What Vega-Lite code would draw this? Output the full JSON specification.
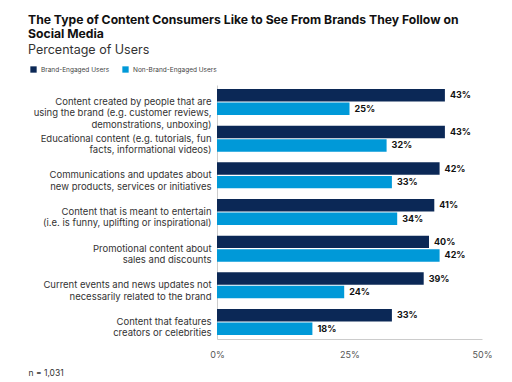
{
  "$schema": "https://vega.github.io/schema/vega-lite/v6.json",
  "autosize": "none",
  "width": 265,
  "height": 254,
  "padding": {"left": 217, "top": 85, "right": 30, "bottom": 43},
  "background": "white",
  "title": {
    "text": ["The Type of Content Consumers Like to See From Brands They Follow on", "Social Media"],
    "subtitle": "Percentage of Users",
    "anchor": "start",
    "frame": "group",
    "dx": -189,
    "dy": 20,
    "font": "Inter",
    "fontSize": 12.2,
    "fontWeight": "bold",
    "color": "#111111",
    "lineHeight": 14,
    "subtitleFont": "Inter",
    "subtitleFontSize": 12.5,
    "subtitleColor": "#333333",
    "subtitlePadding": 3,
    "offset": 30
  },
  "data": {
    "values": [
      {"category": "Content created by people that are|using the brand (e.g. customer reviews,|demonstrations, unboxing)", "series": "Brand-Engaged Users", "value": 43},
      {"category": "Content created by people that are|using the brand (e.g. customer reviews,|demonstrations, unboxing)", "series": "Non-Brand-Engaged Users", "value": 25},
      {"category": "Educational content (e.g. tutorials, fun|facts, informational videos)", "series": "Brand-Engaged Users", "value": 43},
      {"category": "Educational content (e.g. tutorials, fun|facts, informational videos)", "series": "Non-Brand-Engaged Users", "value": 32},
      {"category": "Communications and updates about|new products, services or initiatives", "series": "Brand-Engaged Users", "value": 42},
      {"category": "Communications and updates about|new products, services or initiatives", "series": "Non-Brand-Engaged Users", "value": 33},
      {"category": "Content that is meant to entertain|(i.e. is funny, uplifting or inspirational)", "series": "Brand-Engaged Users", "value": 41},
      {"category": "Content that is meant to entertain|(i.e. is funny, uplifting or inspirational)", "series": "Non-Brand-Engaged Users", "value": 34},
      {"category": "Promotional content about|sales and discounts", "series": "Brand-Engaged Users", "value": 40},
      {"category": "Promotional content about|sales and discounts", "series": "Non-Brand-Engaged Users", "value": 42},
      {"category": "Current events and news updates not|necessarily related to the brand", "series": "Brand-Engaged Users", "value": 39},
      {"category": "Current events and news updates not|necessarily related to the brand", "series": "Non-Brand-Engaged Users", "value": 24},
      {"category": "Content that features|creators or celebrities", "series": "Brand-Engaged Users", "value": 33},
      {"category": "Content that features|creators or celebrities", "series": "Non-Brand-Engaged Users", "value": 18}
    ]
  },
  "encoding": {
    "y": {
      "field": "category",
      "type": "nominal",
      "sort": null,
      "scale": {"paddingInner": 0.29, "paddingOuter": 0.11},
      "axis": {
        "title": null,
        "labelExpr": "split(datum.label, '|')",
        "labelFont": "Inter",
        "labelFontSize": 9.5,
        "labelColor": "#333333",
        "labelLineHeight": 11.3,
        "labelPadding": 6,
        "labelLimit": 220,
        "ticks": false,
        "domainColor": "#cccccc",
        "grid": false
      }
    },
    "yOffset": {
      "field": "series",
      "type": "nominal",
      "scale": {"paddingInner": 0.08}
    },
    "x": {
      "field": "value",
      "type": "quantitative",
      "scale": {"domain": [0, 50]},
      "axis": {
        "values": [0, 25, 50],
        "labelExpr": "datum.value + '%'",
        "labelFlush": false,
        "labelFont": "Inter",
        "labelFontSize": 9,
        "labelColor": "#555555",
        "labelPadding": 11,
        "ticks": false,
        "grid": false,
        "domainColor": "#cccccc",
        "title": "n = 1,031",
        "titleFont": "Inter",
        "titleFontSize": 8.5,
        "titleFontWeight": "normal",
        "titleColor": "#333333",
        "titleAnchor": "start",
        "titleAlign": "left",
        "titleX": -189,
        "titleY": 29
      }
    }
  },
  "layer": [
    {
      "mark": {"type": "bar"},
      "encoding": {
        "color": {
          "field": "series",
          "type": "nominal",
          "scale": {"domain": ["Brand-Engaged Users", "Non-Brand-Engaged Users"], "range": ["#0b2856", "#0099d8"]},
          "legend": {
            "title": null,
            "orient": "none",
            "legendX": -187,
            "legendY": -19,
            "direction": "horizontal",
            "symbolType": "square",
            "symbolSize": 40,
            "symbolStrokeWidth": 0,
            "labelFont": "Inter",
            "labelFontSize": 6.5,
            "labelColor": "#444444",
            "columnPadding": 12,
            "labelOffset": 4
          }
        }
      }
    },
    {
      "transform": [{"calculate": "datum.value + '%'", "as": "label"}],
      "mark": {"type": "text", "align": "left", "baseline": "middle", "dx": 5, "font": "Inter", "fontSize": 9, "fontWeight": "bold", "color": "#111111"},
      "encoding": {
        "text": {"field": "label", "type": "nominal"},
        "color": {"value": "#111111"}
      }
    }
  ],
  "config": {
    "view": {"stroke": null}
  }
}
